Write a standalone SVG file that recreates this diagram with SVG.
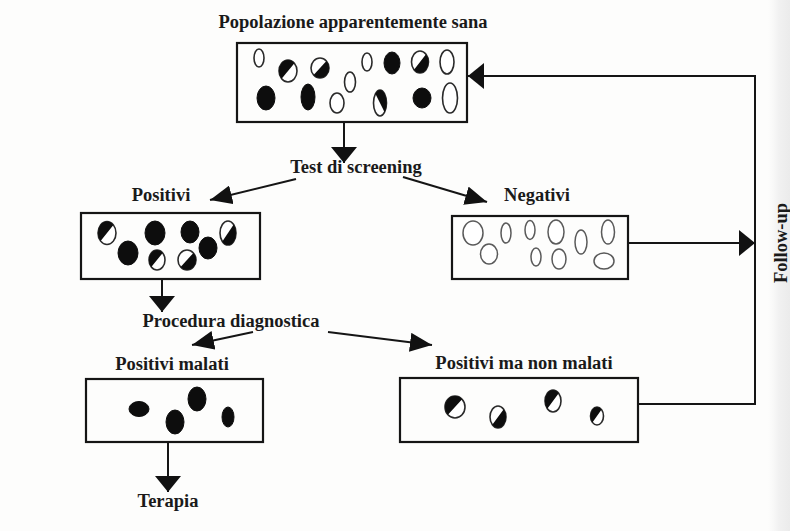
<svg xmlns="http://www.w3.org/2000/svg" width="790" height="531" viewBox="0 0 790 531">
  <style>
    .lbl { font-family: "Liberation Serif", "Times New Roman", serif; font-weight: bold; font-size: 18.5px; fill: #1a1a1a; text-anchor: middle; }
    .box { fill: none; stroke: #151515; stroke-width: 2.2; }
    .w { fill: #ffffff; stroke: #2a2a2a; stroke-width: 1.6; }
    .g { fill: #ffffff; stroke: #5a5a5a; stroke-width: 1.5; }
    .b { fill: #0d0d0d; }
    .bk { fill: #0d0d0d; stroke: #0d0d0d; stroke-width: 1; }
    .edge { fill: none; stroke: #151515; stroke-width: 2; }
  </style>
  <defs>
    <marker id="tri" markerUnits="userSpaceOnUse" viewBox="0 0 16 26" refX="16" refY="13" markerWidth="16" markerHeight="26" orient="auto">
      <path d="M0,0 L16,13 L0,26 Z" fill="#111"/>
    </marker>
    <marker id="diag" markerUnits="userSpaceOnUse" viewBox="0 0 22 19" refX="22" refY="9.5" markerWidth="22" markerHeight="19" orient="auto">
      <path d="M0,0 L22,9.5 L0,19 Z" fill="#111"/>
    </marker>
    <linearGradient id="pageEdge" x1="0" y1="0" x2="1" y2="0">
      <stop offset="0" stop-color="#f4f4f4" stop-opacity="0"/>
      <stop offset="0.5" stop-color="#f1f1f1"/>
      <stop offset="1" stop-color="#ebebeb"/>
    </linearGradient>
  </defs>

  <!-- page -->
  <rect x="0" y="0" width="790" height="531" fill="#fdfdfc"/>
  <rect x="768" y="0" width="22" height="531" fill="url(#pageEdge)"/>

  <!-- connectors -->
  <g id="connectors">
    <path class="edge" d="M344,122 V163" marker-end="url(#tri)"/>
    <path class="edge" d="M296,179 L210,200" marker-end="url(#diag)"/>
    <path class="edge" d="M403,177 L487,202" marker-end="url(#diag)"/>
    <path class="edge" d="M162,279 V312" marker-end="url(#tri)"/>
    <path class="edge" d="M253,332 L192,345" marker-end="url(#diag)"/>
    <path class="edge" d="M328,332 L432,345" marker-end="url(#diag)"/>
    <path class="edge" d="M168,443 V492" marker-end="url(#tri)"/>
    <path class="edge" d="M628,243 H755" marker-end="url(#tri)"/>
    <path class="edge" d="M638,404 H755 V76 H468" marker-end="url(#tri)"/>
  </g>

  <!-- population -->
  <g id="popolazione">
    <text class="lbl" x="353" y="28">Popolazione apparentemente sana</text>
    <rect class="box" x="237" y="43" width="230" height="79"/>
    <ellipse class="w" cx="259" cy="58" rx="5" ry="9"/>
    <g transform="translate(288 71)"><ellipse class="w" rx="9" ry="11"/><path class="b" d="M-6.4,7.8 A9,11 0 0 1 6.4,-7.8Z"/></g>
    <g transform="translate(320 68)"><ellipse class="w" rx="9" ry="10"/><path class="b" d="M6.4,-7.1 A9,10 0 0 1 -6.4,7.1Z"/></g>
    <ellipse class="w" cx="350" cy="82" rx="5.5" ry="10"/>
    <ellipse class="w" cx="367" cy="62" rx="5" ry="9"/>
    <ellipse class="bk" cx="392" cy="63" rx="8" ry="11"/>
    <g transform="translate(420 62)"><ellipse class="w" rx="8.5" ry="11"/><path class="b" d="M6,-7.8 A8.5,11 0 0 1 -6,7.8Z"/></g>
    <ellipse class="w" cx="447" cy="62" rx="7" ry="12"/>
    <ellipse class="bk" cx="266" cy="98" rx="9" ry="12"/>
    <ellipse class="bk" cx="308" cy="97" rx="7" ry="13"/>
    <ellipse class="w" cx="337" cy="103" rx="7" ry="10"/>
    <g transform="translate(380 103)"><ellipse class="w" rx="6.5" ry="13"/><path class="b" d="M-4.6,-9.2 A6.5,13 0 0 1 4.6,9.2Z"/></g>
    <ellipse class="bk" cx="422" cy="98" rx="9" ry="10"/>
    <ellipse class="w" cx="450" cy="98" rx="7.5" ry="15"/>
  </g>

  <!-- screening test label -->
  <g id="test">
    <text class="lbl" x="356" y="173">Test di screening</text>
  </g>

  <!-- positives -->
  <g id="positivi">
    <text class="lbl" x="161" y="201">Positivi</text>
    <rect class="box" x="81" y="213" width="179" height="66"/>
    <g transform="translate(107 233)"><ellipse class="w" rx="9" ry="11.5"/><path class="b" d="M-6.4,8.1 A9,11.5 0 0 1 6.4,-8.1Z"/></g>
    <ellipse class="bk" cx="155" cy="233" rx="10" ry="12"/>
    <ellipse class="bk" cx="190" cy="232" rx="9" ry="11"/>
    <g transform="translate(228 233)"><ellipse class="w" rx="8" ry="12"/><path class="b" d="M5.7,-8.5 A8,12 0 0 1 -5.7,8.5Z"/></g>
    <ellipse class="bk" cx="128" cy="253" rx="10" ry="12"/>
    <g transform="translate(157 260)"><ellipse class="w" rx="8" ry="10"/><path class="b" d="M-5.7,7.1 A8,10 0 0 1 5.7,-7.1Z"/></g>
    <g transform="translate(187 260)"><ellipse class="w" rx="9" ry="10"/><path class="b" d="M6.4,-7.1 A9,10 0 0 1 -6.4,7.1Z"/></g>
    <ellipse class="bk" cx="208" cy="248" rx="9" ry="11"/>
  </g>

  <!-- negatives -->
  <g id="negativi">
    <text class="lbl" x="537" y="201">Negativi</text>
    <rect class="box" x="452" y="216" width="176" height="63"/>
    <ellipse class="g" cx="473" cy="233" rx="10" ry="12"/>
    <ellipse class="g" cx="489" cy="254" rx="8.5" ry="10"/>
    <ellipse class="g" cx="506" cy="233" rx="5" ry="10"/>
    <ellipse class="g" cx="530" cy="230" rx="5" ry="9.5"/>
    <ellipse class="g" cx="536" cy="257" rx="5" ry="9"/>
    <ellipse class="g" cx="556" cy="232" rx="8" ry="12"/>
    <ellipse class="g" cx="559" cy="259" rx="7" ry="10"/>
    <ellipse class="g" cx="581" cy="242" rx="6" ry="12"/>
    <ellipse class="g" cx="608" cy="232" rx="6.5" ry="12"/>
    <ellipse class="g" cx="604" cy="261" rx="10" ry="8"/>
  </g>

  <!-- diagnostic procedure label -->
  <g id="procedura">
    <text class="lbl" x="231" y="327">Procedura diagnostica</text>
  </g>

  <!-- true positives -->
  <g id="malati">
    <text class="lbl" x="172" y="370">Positivi malati</text>
    <rect class="box" x="86" y="379" width="177" height="63"/>
    <ellipse class="bk" cx="139" cy="409" rx="10" ry="7.5"/>
    <ellipse class="bk" cx="175" cy="422" rx="9" ry="12"/>
    <ellipse class="bk" cx="197" cy="399" rx="9" ry="12"/>
    <ellipse class="bk" cx="228" cy="417" rx="6" ry="10"/>
  </g>

  <!-- false positives -->
  <g id="non-malati">
    <text class="lbl" x="524" y="369">Positivi ma non malati</text>
    <rect class="box" x="400" y="378" width="238" height="64"/>
    <g transform="translate(455 407)"><ellipse class="w" rx="10" ry="11"/><path class="b" d="M-7.1,7.8 A10,11 0 0 1 7.1,-7.8Z"/></g>
    <g transform="translate(498 417)"><ellipse class="w" rx="8" ry="11"/><path class="b" d="M5.7,-7.8 A8,11 0 0 1 -5.7,7.8Z"/></g>
    <g transform="translate(553 401)"><ellipse class="w" rx="8" ry="11"/><path class="b" d="M-5.7,7.8 A8,11 0 0 1 5.7,-7.8Z"/></g>
    <g transform="translate(597 416)"><ellipse class="w" rx="6.5" ry="9"/><path class="b" d="M-4.6,6.4 A6.5,9 0 0 1 4.6,-6.4Z"/></g>
  </g>

  <!-- therapy -->
  <g id="terapia">
    <text class="lbl" x="168" y="507">Terapia</text>
  </g>

  <!-- follow-up label -->
  <g id="follow-up">
    <text class="lbl" transform="translate(787 243) rotate(-90)">Follow-up</text>
  </g>
</svg>
